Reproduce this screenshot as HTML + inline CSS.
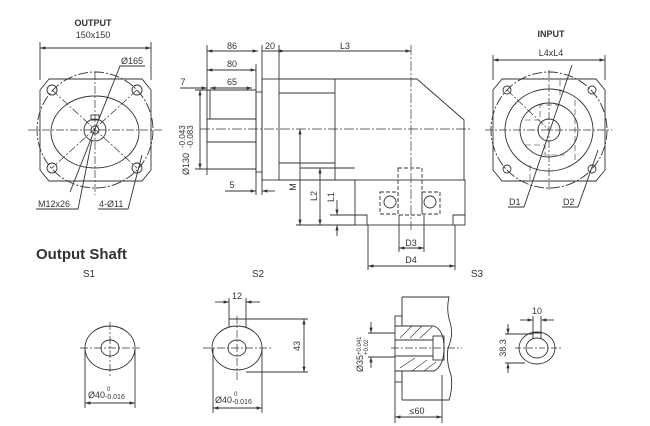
<!DOCTYPE html>
<html><head><meta charset="utf-8"><style>
html,body{margin:0;padding:0;background:#fff;}
svg{display:block;font-family:"Liberation Sans",sans-serif;}
</style></head><body>
<svg width="650" height="426" viewBox="0 0 650 426" xmlns="http://www.w3.org/2000/svg">
<defs>
<marker id="a" viewBox="0 0 10 10" refX="10" refY="5" markerWidth="6" markerHeight="6" orient="auto-start-reverse"><path d="M0,2 L10,5 L0,8 z" fill="#333"/></marker>
</defs>
<g stroke="#333" stroke-width="0.9" fill="none">
<!-- OUTPUT VIEW -->
<line x1="40" y1="42" x2="40" y2="80"/><line x1="151" y1="42" x2="151" y2="80"/>
<line x1="40" y1="48" x2="151" y2="48" marker-start="url(#a)" marker-end="url(#a)"/>
<path d="M49,79 L142,79 L151,90 L151,170 L142,181 L49,181 L40,170 L40,90 Z"/>
<circle cx="95" cy="130" r="58" stroke-dasharray="10,2,2,2"/>
<ellipse cx="95" cy="132" rx="44" ry="36"/>
<circle cx="95" cy="130" r="11"/><circle cx="95" cy="130" r="4"/>
<rect x="91" y="115" width="8" height="5"/>
<circle cx="52" cy="90" r="5"/><circle cx="137" cy="90" r="5"/><circle cx="52" cy="168" r="5"/><circle cx="137" cy="168" r="5"/>
<g stroke-dasharray="8,2,2,2" stroke-width="0.7">
<line x1="28" y1="130" x2="162" y2="130"/><line x1="95" y1="72" x2="95" y2="195"/>
<line x1="52" y1="90" x2="137" y2="168"/><line x1="137" y1="90" x2="52" y2="168"/>
</g>
<path d="M145,66 L120,66 L70,192"/>
<path d="M36,209 L78,209 L92,140"/>
<path d="M98,209 L128,209 L142,155"/>
<!-- SIDE VIEW -->
<line x1="207" y1="45" x2="207" y2="175"/>
<line x1="207" y1="51" x2="258" y2="51" marker-start="url(#a)" marker-end="url(#a)"/>
<line x1="262" y1="45" x2="262" y2="195"/>
<line x1="262" y1="51" x2="285" y2="51" marker-end="url(#a)"/>
<line x1="279" y1="45" x2="279" y2="79"/>
<line x1="207" y1="70" x2="256" y2="70" marker-start="url(#a)" marker-end="url(#a)"/>
<line x1="256" y1="64" x2="256" y2="195"/>
<line x1="180" y1="88" x2="207" y2="88" marker-end="url(#a)"/>
<line x1="210" y1="88" x2="252" y2="88" marker-start="url(#a)" marker-end="url(#a)"/>
<line x1="195" y1="90" x2="256" y2="90"/>
<line x1="195" y1="169" x2="256" y2="169"/>
<line x1="200" y1="90" x2="200" y2="169" marker-start="url(#a)" marker-end="url(#a)"/>
<path d="M210,90 L210,119 M207,119 L256,119 M207,119 L207,142 L256,142"/>
<rect x="256" y="92" width="6" height="80"/>
<rect x="262" y="79" width="17" height="101"/>
<path d="M279,79 L417,79 L464,120 L464,180 M279,93 L335,93 M279,163 L335,163 M279,180 L355,180 M335,79 L335,180 M300,168 L355,168"/>
<rect x="355" y="180" width="110" height="45"/>
<path d="M367,225 L367,215 L355,215 M453,225 L453,215 L465,215"/>
<rect x="398" y="168" width="24" height="47" stroke-dasharray="4,2"/>
<rect x="380" y="192" width="18" height="22" stroke-dasharray="4,2"/>
<rect x="422" y="192" width="18" height="22" stroke-dasharray="4,2"/>
<circle cx="390" cy="202" r="6"/><circle cx="430" cy="202" r="6"/>
<line x1="225" y1="191" x2="256" y2="191" marker-end="url(#a)"/>
<line x1="262" y1="191" x2="275" y2="191" marker-start="url(#a)"/>
<line x1="411" y1="45" x2="411" y2="230" stroke-dasharray="10,2,2,2" stroke-width="0.7"/>
<line x1="200" y1="129" x2="470" y2="129" stroke-dasharray="10,2,2,2" stroke-width="0.7"/>
<line x1="285" y1="51" x2="411" y2="51" marker-end="url(#a)"/>
<line x1="300" y1="129" x2="300" y2="225" marker-start="url(#a)" marker-end="url(#a)"/>
<line x1="320" y1="168" x2="320" y2="225" marker-start="url(#a)" marker-end="url(#a)"/>
<line x1="337" y1="200" x2="337" y2="215" marker-end="url(#a)"/>
<line x1="337" y1="225" x2="337" y2="236" marker-start="url(#a)"/>
<line x1="296" y1="225" x2="355" y2="225"/>
<line x1="330" y1="215" x2="355" y2="215"/>
<line x1="399" y1="215" x2="399" y2="252"/><line x1="424" y1="215" x2="424" y2="252"/>
<line x1="399" y1="248" x2="424" y2="248" marker-start="url(#a)" marker-end="url(#a)"/>
<line x1="368" y1="225" x2="368" y2="270"/><line x1="455" y1="225" x2="455" y2="270"/>
<line x1="368" y1="266" x2="455" y2="266" marker-start="url(#a)" marker-end="url(#a)"/>
<!-- INPUT VIEW -->
<line x1="493" y1="55" x2="493" y2="80"/><line x1="605" y1="55" x2="605" y2="80"/>
<line x1="493" y1="60" x2="605" y2="60" marker-start="url(#a)" marker-end="url(#a)"/>
<path d="M502,79 L596,79 L605,90 L605,170 L596,181 L502,181 L493,170 L493,90 Z"/>
<circle cx="549" cy="130" r="58" stroke-dasharray="10,2,2,2"/>
<ellipse cx="549" cy="130" rx="44" ry="41"/>
<ellipse cx="549" cy="130" rx="29" ry="27"/>
<circle cx="549" cy="130" r="11"/>
<circle cx="507" cy="90" r="4"/><circle cx="592" cy="90" r="4"/><circle cx="507" cy="169" r="4"/><circle cx="592" cy="169" r="4"/>
<g stroke-dasharray="6,3" stroke-width="0.6">
<path d="M525,120 L540,120 L540,105 L560,105 M525,145 L545,145 L545,155 L565,155 M575,100 L575,160 M530,165 L530,180 M560,95 L560,80"/>
</g>
<g stroke-dasharray="8,2,2,2" stroke-width="0.7">
<line x1="485" y1="130" x2="612" y2="130"/><line x1="549" y1="70" x2="549" y2="190"/>
<line x1="507" y1="90" x2="549" y2="130"/>
</g>
<path d="M508,207 L524,207 L572,65"/>
<path d="M562,207 L578,207 L598,150"/>
<!-- S1 -->
<ellipse cx="110" cy="348" rx="25" ry="22"/><ellipse cx="110" cy="348" rx="9" ry="8"/>
<g stroke-dasharray="8,2,2,2" stroke-width="0.7"><line x1="80" y1="348" x2="140" y2="348"/><line x1="110" y1="322" x2="110" y2="376"/></g>
<line x1="85" y1="348" x2="85" y2="408"/><line x1="135" y1="348" x2="135" y2="408"/>
<line x1="85" y1="403" x2="135" y2="403" marker-start="url(#a)" marker-end="url(#a)"/>
<!-- S2 -->
<ellipse cx="237" cy="348" rx="25" ry="22"/><ellipse cx="237" cy="348" rx="9" ry="8"/>
<path d="M229,327 L229,319 L246,319 L246,327"/>
<g stroke-dasharray="8,2,2,2" stroke-width="0.7"><line x1="203" y1="348" x2="272" y2="348"/><line x1="237" y1="316" x2="237" y2="380"/></g>
<line x1="229" y1="298" x2="229" y2="319"/><line x1="246" y1="298" x2="246" y2="319"/>
<line x1="215" y1="302" x2="229" y2="302" marker-end="url(#a)"/><line x1="260" y1="302" x2="246" y2="302" marker-end="url(#a)"/>
<line x1="246" y1="319" x2="308" y2="319"/><line x1="246" y1="372" x2="308" y2="372"/>
<line x1="304" y1="319" x2="304" y2="372" marker-start="url(#a)" marker-end="url(#a)"/>
<line x1="213" y1="348" x2="213" y2="413"/><line x1="262" y1="348" x2="262" y2="413"/>
<line x1="213" y1="408" x2="262" y2="408" marker-start="url(#a)" marker-end="url(#a)"/>
<!-- S3 section -->
<path d="M402,297 L449,297 Q446,310 450,322 Q454,335 448,348 Q446,362 451,375 Q453,388 449,400 L402,400"/>
<path d="M402,297 L402,326 M402,371 L402,400"/>
<rect x="395" y="316" width="7" height="10"/><rect x="395" y="371" width="7" height="11"/>
<path d="M395,326 L434,326 Q444,330 444,348 Q444,366 434,371 L395,371 Z"/>
<rect x="433" y="336" width="11" height="24"/>
<g stroke-width="0.6"><path d="M400,338 L412,326 M410,338 L422,326 M420,338 L432,327 M400,368 L415,358 M412,371 L427,360 M424,371 L436,362"/></g>
<line x1="395" y1="340" x2="433" y2="340"/><line x1="395" y1="356" x2="433" y2="356"/>
<line x1="391" y1="348" x2="462" y2="348" stroke-dasharray="8,2,2,2" stroke-width="0.7"/>
<line x1="368" y1="333" x2="395" y2="333"/><line x1="368" y1="357" x2="395" y2="357"/>
<line x1="371" y1="322" x2="371" y2="333" marker-end="url(#a)"/><line x1="371" y1="368" x2="371" y2="357" marker-end="url(#a)"/>
<line x1="395" y1="382" x2="395" y2="423"/><line x1="442" y1="375" x2="442" y2="423"/>
<line x1="395" y1="417" x2="442" y2="417" marker-start="url(#a)" marker-end="url(#a)"/>
<!-- S3 end -->
<ellipse cx="537" cy="348" rx="18" ry="16"/><ellipse cx="537" cy="348" rx="11" ry="10"/>
<path d="M533,339 L533,333 L541,333 L541,339"/>
<line x1="515" y1="348" x2="562" y2="348" stroke-dasharray="6,2,2,2" stroke-width="0.7"/>
<line x1="533" y1="316" x2="533" y2="333"/><line x1="541" y1="316" x2="541" y2="333"/>
<line x1="520" y1="320" x2="533" y2="320" marker-end="url(#a)"/><line x1="554" y1="320" x2="541" y2="320" marker-end="url(#a)"/>
<line x1="505" y1="334" x2="533" y2="334"/><line x1="505" y1="363" x2="525" y2="363"/>
<line x1="508" y1="324" x2="508" y2="334" marker-end="url(#a)"/><line x1="508" y1="373" x2="508" y2="363" marker-end="url(#a)"/>
</g>
<g fill="#333" font-size="9">
<text x="93" y="26" text-anchor="middle" font-weight="bold">OUTPUT</text>
<text x="93" y="38" text-anchor="middle">150x150</text>
<text x="121" y="64">Ø165</text>
<text x="38" y="207">M12x26</text>
<text x="99" y="207">4-Ø11</text>
<text x="232" y="49" text-anchor="middle">86</text>
<text x="270" y="49" text-anchor="middle">20</text>
<text x="232" y="67" text-anchor="middle">80</text>
<text x="232" y="85" text-anchor="middle">65</text>
<text x="183" y="85" text-anchor="middle">7</text>
<text x="232" y="188" text-anchor="middle">5</text>
<text transform="translate(189,175) rotate(-90)">Ø130</text>
<text transform="translate(185,148) rotate(-90)" font-size="8">-0.043</text>
<text transform="translate(193,148) rotate(-90)" font-size="8">-0.083</text>
<text x="345" y="49" text-anchor="middle">L3</text>
<text transform="translate(296,187) rotate(-90)" text-anchor="middle">M</text>
<text transform="translate(317,196) rotate(-90)" text-anchor="middle">L2</text>
<text transform="translate(334,197) rotate(-90)" text-anchor="middle">L1</text>
<text x="411" y="246" text-anchor="middle">D3</text>
<text x="411" y="263" text-anchor="middle">D4</text>
<text x="551" y="37" text-anchor="middle" font-weight="bold">INPUT</text>
<text x="551" y="56" text-anchor="middle">L4xL4</text>
<text x="509" y="205">D1</text>
<text x="563" y="205">D2</text>
<text x="36" y="259" font-size="15" font-weight="bold">Output Shaft</text>
<text x="89" y="277" text-anchor="middle" font-size="10">S1</text>
<text x="258" y="277" text-anchor="middle" font-size="10">S2</text>
<text x="477" y="277" text-anchor="middle" font-size="10">S3</text>
<text x="88" y="398">Ø40</text><text x="107" y="391" font-size="6">0</text><text x="105" y="399" font-size="7">-0.016</text>
<text x="215" y="403">Ø40</text><text x="234" y="396" font-size="6">0</text><text x="232" y="404" font-size="7">-0.016</text>
<text x="237" y="299" text-anchor="middle">12</text>
<text transform="translate(300,346) rotate(-90)" text-anchor="middle">43</text>
<text transform="translate(363,372) rotate(-90)">Ø35</text>
<text transform="translate(361,355) rotate(-90)" font-size="6">+0.041</text>
<text transform="translate(368,355) rotate(-90)" font-size="6">+0.02</text>
<text x="417" y="414" text-anchor="middle">≤60</text>
<text x="537" y="314" text-anchor="middle">10</text>
<text transform="translate(506,348) rotate(-90)" text-anchor="middle">38.3</text>
</g>
</svg>
</body></html>
